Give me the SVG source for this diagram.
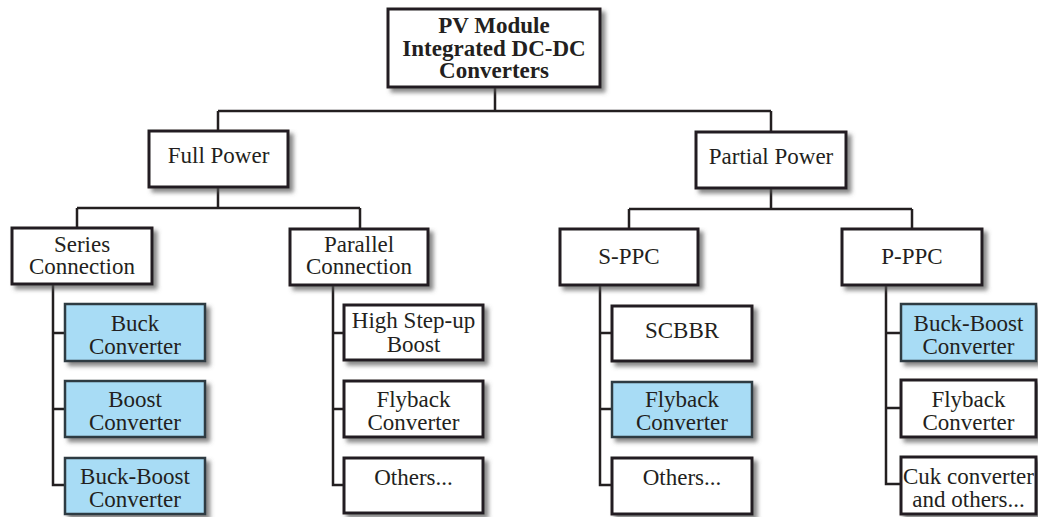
<svg xmlns="http://www.w3.org/2000/svg" width="1038" height="517" viewBox="0 0 1038 517">
  <defs>
    <filter id="shadow" x="-10%" y="-10%" width="130%" height="140%">
      <feGaussianBlur in="SourceAlpha" stdDeviation="2"/>
      <feOffset dx="4" dy="4" result="blur"/>
      <feFlood flood-color="#555" flood-opacity="0.7"/>
      <feComposite in2="blur" operator="in"/>
      <feMerge>
        <feMergeNode/>
        <feMergeNode in="SourceGraphic"/>
      </feMerge>
    </filter>
  </defs>
  <style>
    .box { fill: #ffffff; stroke: #231f20; stroke-width: 3; filter: url(#shadow); }
    .blue { fill: #a8dcf5; stroke: #2f3a42; stroke-width: 2.5; filter: url(#shadow); }
    .lbl { font-size: 23px; fill: #231f20; text-anchor: middle; }
    .bold { font-weight: bold; }
    .wire { fill: none; stroke: #231f20; stroke-width: 2.5; }
  </style>
  <rect width="1038" height="517" fill="#ffffff"/>

  <!-- connectors -->
  <g id="connectors" class="wire">
    <path d="M495 87 V111 M218 111 H771 M218 111 V131 M771 111 V132"/>
    <path d="M218 187 V208 M77 208 H360 M77 208 V228 M360 208 V229"/>
    <path d="M771 188 V209 M629 209 H912 M629 209 V229 M912 209 V229"/>
    <path d="M53 284 V485 H65 M53 333 H65 M53 409 H65"/>
    <path d="M333 285 V485 H344 M333 333 H344 M333 409 H344"/>
    <path d="M600 285 V485 H612 M600 333 H612 M600 409 H612"/>
    <path d="M886 285 V484 H901 M886 333 H901 M886 408 H901"/>
  </g>

  <g font-family="'Liberation Serif', 'Times New Roman', Times, 'DejaVu Serif', serif">
  <!-- root -->
  <g id="root">
    <rect class="box" x="388" y="9" width="212" height="78"/>
    <text class="lbl bold" x="494" y="33">PV Module</text>
    <text class="lbl bold" x="494" y="55.5">Integrated DC-DC</text>
    <text class="lbl bold" x="494" y="78">Converters</text>
  </g>

  <!-- level 1 -->
  <g id="full-power">
    <rect class="box" x="149" y="131" width="139" height="56"/>
    <text class="lbl" x="218.5" y="163">Full Power</text>
  </g>
  <g id="partial-power">
    <rect class="box" x="696" y="132" width="150" height="56"/>
    <text class="lbl" x="771" y="164">Partial Power</text>
  </g>

  <!-- level 2 -->
  <g id="series">
    <rect class="box" x="12" y="228" width="140" height="56"/>
    <text class="lbl" x="82" y="252">Series</text>
    <text class="lbl" x="82" y="274">Connection</text>
  </g>
  <g id="parallel">
    <rect class="box" x="290" y="229" width="138" height="56"/>
    <text class="lbl" x="359" y="252">Parallel</text>
    <text class="lbl" x="359" y="274">Connection</text>
  </g>
  <g id="s-ppc">
    <rect class="box" x="560" y="229" width="138" height="56"/>
    <text class="lbl" x="629" y="264">S-PPC</text>
  </g>
  <g id="p-ppc">
    <rect class="box" x="842" y="229" width="140" height="56"/>
    <text class="lbl" x="912" y="264">P-PPC</text>
  </g>

  <!-- series connection leaves -->
  <g id="series-buck">
    <rect class="blue" x="65" y="304" width="140" height="57"/>
    <text class="lbl" x="135" y="331">Buck</text>
    <text class="lbl" x="135" y="354">Converter</text>
  </g>
  <g id="series-boost">
    <rect class="blue" x="65" y="381" width="140" height="56"/>
    <text class="lbl" x="135" y="407">Boost</text>
    <text class="lbl" x="135" y="430">Converter</text>
  </g>
  <g id="series-buck-boost">
    <rect class="blue" x="65" y="458" width="140" height="56"/>
    <text class="lbl" x="135" y="484">Buck-Boost</text>
    <text class="lbl" x="135" y="507">Converter</text>
  </g>

  <!-- parallel connection leaves -->
  <g id="parallel-step-up">
    <rect class="box" x="344" y="305" width="139" height="55"/>
    <text class="lbl" x="413.5" y="328">High Step-up</text>
    <text class="lbl" x="413.5" y="352">Boost</text>
  </g>
  <g id="parallel-flyback">
    <rect class="box" x="344" y="381" width="139" height="56"/>
    <text class="lbl" x="413.5" y="407">Flyback</text>
    <text class="lbl" x="413.5" y="430">Converter</text>
  </g>
  <g id="parallel-others">
    <rect class="box" x="344" y="458" width="139" height="55"/>
    <text class="lbl" x="413.5" y="485">Others...</text>
  </g>

  <!-- S-PPC leaves -->
  <g id="sppc-scbbr">
    <rect class="box" x="612" y="306" width="140" height="55"/>
    <text class="lbl" x="682" y="338">SCBBR</text>
  </g>
  <g id="sppc-flyback">
    <rect class="blue" x="612" y="382" width="140" height="55"/>
    <text class="lbl" x="682" y="407">Flyback</text>
    <text class="lbl" x="682" y="430">Converter</text>
  </g>
  <g id="sppc-others">
    <rect class="box" x="612" y="458" width="140" height="56"/>
    <text class="lbl" x="682" y="485">Others...</text>
  </g>

  <!-- P-PPC leaves -->
  <g id="pppc-buck-boost">
    <rect class="blue" x="901" y="304" width="135" height="57"/>
    <text class="lbl" x="968.5" y="331">Buck-Boost</text>
    <text class="lbl" x="968.5" y="354">Converter</text>
  </g>
  <g id="pppc-flyback">
    <rect class="box" x="901" y="380" width="135" height="57"/>
    <text class="lbl" x="968.5" y="407">Flyback</text>
    <text class="lbl" x="968.5" y="430">Converter</text>
  </g>
  <g id="pppc-cuk">
    <rect class="box" x="901" y="457" width="135" height="57"/>
    <text class="lbl" x="968.5" y="484">Cuk converter</text>
    <text class="lbl" x="968.5" y="507">and others...</text>
  </g>
  </g>
</svg>
